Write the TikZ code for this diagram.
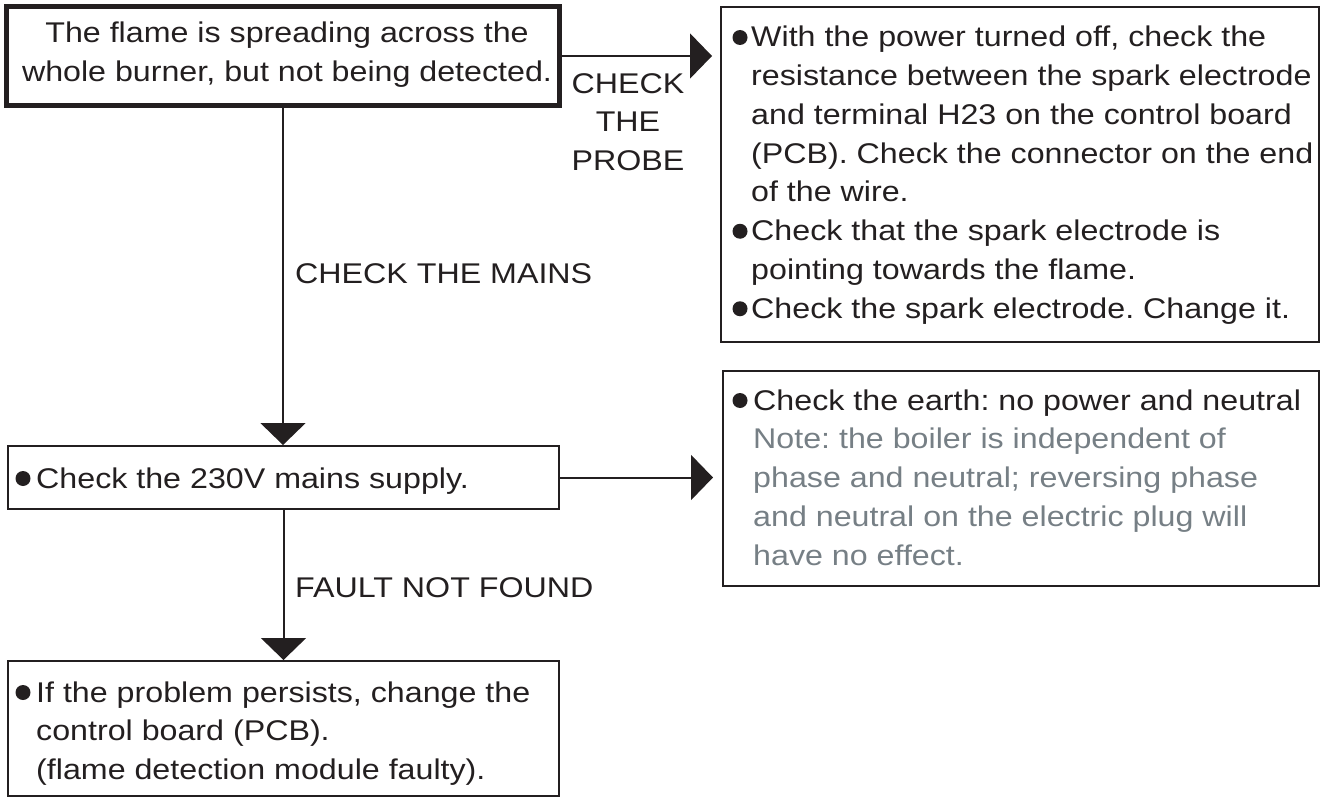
\documentclass[tikz,border=0pt]{standalone}
\usepackage{fontspec}
\setmainfont{Liberation Sans}[FakeStretch=1.13]
\usetikzlibrary{arrows.meta}
\definecolor{ink}{HTML}{231F20}
\definecolor{note}{RGB}{118,127,133}
\frenchspacing
\begin{document}
\frenchspacing
\begin{tikzpicture}[x=1pt,y=-1pt,
  box/.style={draw=ink, line width=2pt, inner sep=0pt, rectangle},
  thickbox/.style={box, line width=5pt},
  conn/.style={draw=ink, line width=2pt, -{Triangle[length=22pt,width=45pt]}},
  txt/.style={anchor=base west, inner sep=0pt, text=ink, font=\fontsize{28.5}{38.75}\selectfont\frenchspacing},
  dot/.style={circle, fill=ink, inner sep=0pt, minimum size=15pt}]
\useasboundingbox (0,0) rectangle (1323,800);

% boxes
\node[thickbox, minimum width=553pt, minimum height=99pt] (A) at (283,56) {};
\node[box, minimum width=598pt, minimum height=335pt] (B) at (1020,174.5) {};
\node[box, minimum width=551pt, minimum height=63pt] (C) at (283.5,477.5) {};
\node[box, minimum width=596pt, minimum height=215pt] (D) at (1021,478.5) {};
\node[box, minimum width=551pt, minimum height=135pt] (E) at (283.5,728.5) {};

% texts
\node[txt, anchor=base] (tA) at (287,42.5) {\parbox[t]{560pt}{\centering The flame is spreading across the\\ whole burner, but not being detected.}};

\node[txt] (tB) at (751,47) {\parbox[t]{620pt}{\raggedright With the power turned off, check the\\ resistance between the spark electrode\\ and terminal H23 on the control board\\ (PCB). Check the connector on the end\\ of the wire.\\ Check that the spark electrode is\\ pointing towards the flame.\\ Check the spark electrode. Change it.}};
\node[dot] (bB1) at (740,37.5) {};
\node[dot] (bB2) at (740,231.25) {};
\node[dot] (bB3) at (740,308.75) {};

\node[txt] (tC) at (36,488) {Check the 230V mains supply.};
\node[dot] (bC) at (23,478.5) {};

\node[txt] (tD) at (753,410) {\parbox[t]{600pt}{\raggedright Check the earth: no power and neutral\\ \color{note}Note: the boiler is independent of\\ phase and neutral; reversing phase\\ and neutral on the electric plug will\\ have no effect.}};
\node[dot] (bD) at (740,400.5) {};

\node[txt] (tE) at (36,702) {\parbox[t]{540pt}{\raggedright If the problem persists, change the\\ control board (PCB).\\ (flame detection module faulty).}};
\node[dot] (bE) at (23,692.5) {};

% labels
\node[txt, anchor=base] (lP) at (628,93) {\parbox[t]{200pt}{\centering CHECK\\ THE\\ PROBE}};
\node[txt] (lM) at (295,283) {CHECK THE MAINS};
\node[txt] (lF) at (295,597) {FAULT NOT FOUND};

% connectors
\coordinate (pB) at ([xshift=-8pt]B.west |- A.east);
\coordinate (pD) at ([xshift=-9pt]D.west |- C.east);
\draw[conn] (A.south) -- (A.south |- C.north);
\draw[conn] (C.south) -- (C.south |- E.north);
\draw[conn] (A.east) -- (pB);
\draw[conn] (C.east) -- (pD);
\end{tikzpicture}
\end{document}
